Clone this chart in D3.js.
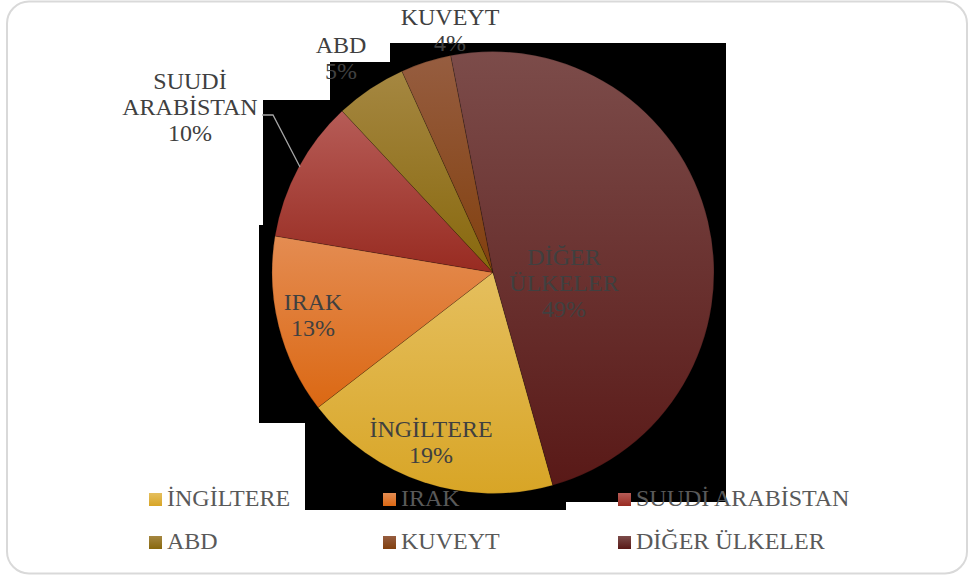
<!DOCTYPE html>
<html>
<head>
<meta charset="utf-8">
<script src="https://cdn.jsdelivr.net/npm/d3@7"></script>
<style>
  body { margin: 0; background: #fff; }
</style>
</head>
<body>
<svg width="969" height="579"></svg>
<script>
// data
var countries = ["İNGİLTERE", "IRAK", "SUUDİ ARABİSTAN", "ABD", "KUVEYT", "DİĞER ÜLKELER"];
var shares = [18.9, 13.1, 10.4, 5.2, 3.7, 48.7];
// label text split in lines
var labelLines = [["İNGİLTERE"], ["IRAK"], ["SUUDİ", "ARABİSTAN"], ["ABD"], ["KUVEYT"], ["DİĞER", "ÜLKELER"]];

var topColors = ["#e5bf5e", "#e48c52", "#b65c57", "#a58741", "#965d40", "#7c4c4a"];
var bottomColors = ["#d8a526", "#db6813", "#982b21", "#88680d", "#82400e", "#591917"];

var width = 969, height = 579;
var cx = 493, cy = 272.5, radius = 221;
var startDeg = 164.3;
var serif = "'Liberation Serif', 'Times New Roman', serif";

var svg = d3.select("svg");

// outer frame
svg.append("rect")
  .attr("x", 7).attr("y", 1.5)
  .attr("width", 960).attr("height", 572)
  .attr("rx", 22).attr("ry", 22)
  .attr("fill", "#fff")
  .attr("stroke", "#d9d9d9")
  .attr("stroke-width", 2);

// dark plot area, cut by label boxes
var plotShape = [[390,43],[726,43],[726,502],[566,502],[566,510],[305,510],[305,423],
                 [259,423],[259,225],[263,225],[263,100],[330,100],[330,62],[390,62]];
svg.append("path")
  .attr("d", d3.line()(plotShape) + "Z")
  .attr("fill", "#000");

var defs = svg.append("defs");
countries.forEach(function(c, i){
  var g = defs.append("linearGradient")
    .attr("id", "grad" + i)
    .attr("x1", 0).attr("y1", 0).attr("x2", 0).attr("y2", 1);
  g.append("stop").attr("offset", "0%").attr("stop-color", topColors[i]);
  g.append("stop").attr("offset", "100%").attr("stop-color", bottomColors[i]);
});

var total = d3.sum(shares);
var pie = d3.pie()
  .sort(null)
  .startAngle(startDeg * Math.PI / 180)
  .endAngle(startDeg * Math.PI / 180 + 2 * Math.PI);

var arc = d3.arc().innerRadius(0).outerRadius(radius);

var slices = pie(shares);

svg.append("g")
  .attr("transform", "translate(" + cx + "," + cy + ")")
  .selectAll("path")
  .data(slices)
  .enter()
  .append("path")
    .attr("d", arc)
    .attr("fill", (d, i) => "url(#grad" + i + ")")
    .attr("stroke", "rgba(0,0,0,0.25)")
    .attr("stroke-width", 0.7);

// leader line for SUUDİ ARABİSTAN
svg.append("polyline")
  .attr("points", "262,115 273,115 300,167")
  .attr("fill", "none")
  .attr("stroke", "#a6a6a6")
  .attr("stroke-width", 1.3);

// data label positions (center x, first baseline)
var labelPos = [[431, 437], [313, 310], [190, 89], [341, 53], [450, 25], [564, 265]];
var lineGap = 26;

var labels = svg.append("g")
  .attr("font-family", serif)
  .attr("font-size", 24)
  .attr("fill", "#404040")
  .attr("text-anchor", "middle");

slices.forEach(function(d, i){
  var lines = labelLines[i].concat([Math.round(d.value / total * 100) + "%"]);
  var t = labels.append("text")
    .attr("x", labelPos[i][0])
    .attr("y", labelPos[i][1]);
  lines.forEach(function(l, k){
    t.append("tspan")
      .attr("x", labelPos[i][0])
      .attr("dy", k === 0 ? 0 : lineGap)
      .text(l);
  });
});

// legend
var legendCols = [149, 383, 618];
var legendRows = [506, 549];
var legend = svg.append("g")
  .attr("font-family", serif)
  .attr("font-size", 24)
  .attr("fill", "#595959");

countries.forEach(function(c, i){
  var x = legendCols[i % 3], y = legendRows[Math.floor(i / 3)];
  legend.append("rect")
    .attr("x", x).attr("y", y - 13)
    .attr("width", 13).attr("height", 13)
    .attr("fill", "url(#grad" + i + ")");
  legend.append("text")
    .attr("x", x + 18).attr("y", y)
    .text(c);
});
</script>
</body>
</html>
